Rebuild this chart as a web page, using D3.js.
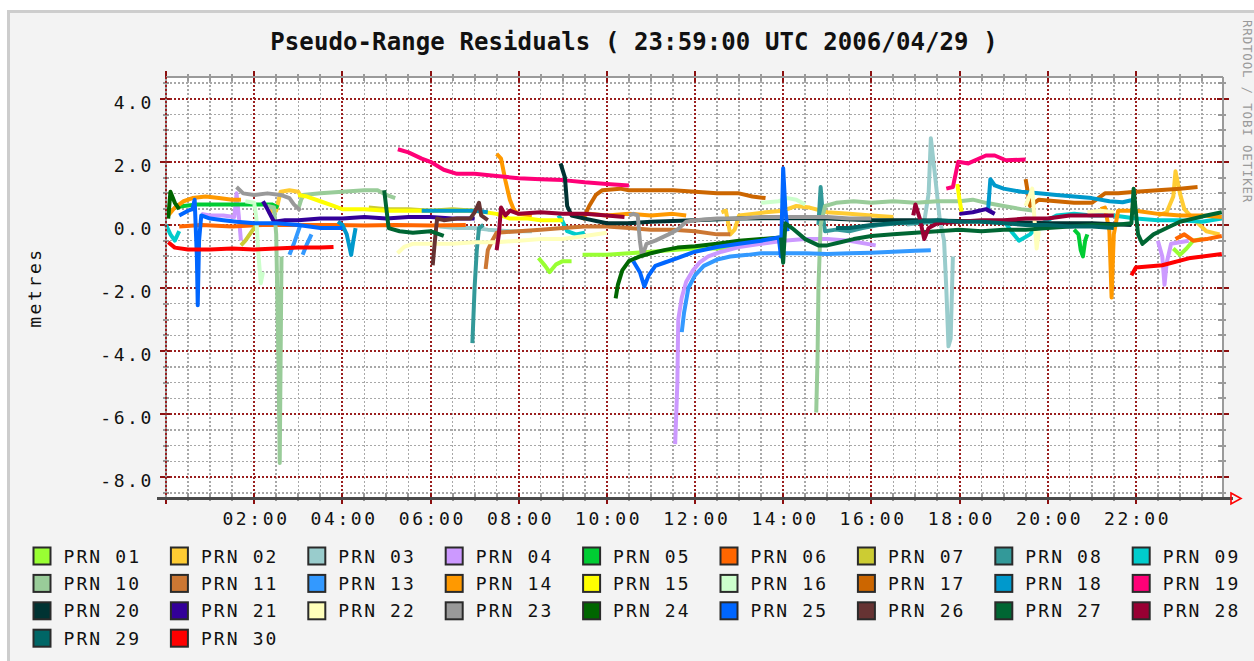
<!DOCTYPE html>
<html>
<head>
<meta charset="utf-8">
<script src="https://cdn.jsdelivr.net/npm/d3@7"></script>
<style>
  body { margin: 0; background: #fff; }
  text { font-family: "DejaVu Sans Mono", monospace; fill: #111; }
</style>
</head>
<body>
<svg id="chart"></svg>
<script>
// DATA: legend labels, then one array per satellite: [segments] of [hour UTC, residual m]
const prnNames = ["PRN 01","PRN 02","PRN 03","PRN 04","PRN 05","PRN 06","PRN 07","PRN 08","PRN 09",
  "PRN 10","PRN 11","PRN 13","PRN 14","PRN 15","PRN 16","PRN 17","PRN 18","PRN 19",
  "PRN 20","PRN 21","PRN 22","PRN 23","PRN 24","PRN 25","PRN 26","PRN 27","PRN 28","PRN 29","PRN 30"];

const prnColors = ["#99ff33","#ffcc33","#99cccc","#cc99ff","#00cc33","#ff6600","#cccc33","#339999","#00cccc",
  "#99cc99","#cc7733","#3399ff","#ff9900","#ffff00","#ccffcc","#cc6600","#0099cc","#ff0077",
  "#003333","#330099","#ffffbb","#999999","#006600","#0066ff","#663333","#006633","#990033","#006666","#ff0000"];

const yTickValues = [-8, -6, -4, -2, 0, 2, 4];

const prn01 = [
  [[8.45,-1.05],[8.6,-1.3],[8.7,-1.5],[8.85,-1.25],[9.0,-1.15],[9.2,-1.15]],
  [[9.45,-0.95],[10,-0.95],[10.5,-0.9],[11,-0.85],[11.5,-0.8],[12,-0.75],[12.5,-0.75],[13,-0.7]],
  [[22.85,-0.75],[23.0,-0.95],[23.15,-0.75],[23.3,-0.5],[23.5,-0.45]]
];
const prn02 = [
  [[2.3,0.4],[2.5,0.45],[2.6,1.05],[2.8,1.1],[3.0,1.05],[3.1,0.8]],
  [[12.6,0.4],[12.7,0.45],[12.8,-0.3],[12.9,-0.15],[13.0,0.3],[13.3,0.35],[13.6,0.4],[14.0,0.45],[14.3,0.6],[14.6,0.55],[15.0,0.4],[15.5,0.35],[16,0.3],[16.5,0.25]],
  [[22.5,0.3],[22.7,0.4],[22.85,0.9],[22.9,1.7],[23.0,1.0],[23.1,0.5],[23.3,0.2],[23.6,-0.2],[23.9,-0.3]]
];
const prn03 = [
  [[6.2,-0.05],[6.6,-0.1],[7.0,-0.1],[7.3,-0.15],[7.8,-0.2],[8.3,-0.2]],
  [[16.8,0.0],[17.0,0.05],[17.2,0.1],[17.3,1.0],[17.35,2.75],[17.45,1.5],[17.55,0.2],[17.65,-0.5],[17.7,-2.0],[17.75,-3.85],[17.8,-3.6],[17.85,-1.0]]
];
const prn04 = [
  [[0.8,0.35],[1.0,0.3],[1.3,0.3],[1.55,0.25],[1.6,1.0],[1.65,0.3],[1.7,-0.5]],
  [[11.55,-6.95],[11.6,-5.0],[11.62,-3.0],[11.7,-2.3],[11.8,-1.8],[11.95,-1.45],[12.1,-1.2],[12.3,-1.0],[12.6,-0.85],[13,-0.7],[13.5,-0.6],[14,-0.5],[14.5,-0.45],[15,-0.45],[15.5,-0.5],[16.1,-0.65]],
  [[22.5,-0.5],[22.6,-1.0],[22.65,-1.9],[22.7,-1.2],[22.8,-0.6],[23.0,-0.55],[23.2,-0.5]]
];
const prn05 = [
  [[0.2,0.55],[0.4,0.6],[0.7,0.65],[1.0,0.65],[1.5,0.65],[2.0,0.65],[2.4,0.65],[2.55,0.55]],
  [[20.6,-0.15],[20.7,-0.3],[20.75,-0.8],[20.8,-1.0],[20.85,-0.5],[20.9,-0.3]]
];
const prn06 = [
  [[0.3,-0.05],[0.8,0.0],[1.5,-0.05],[2.2,0.0],[3.0,0.0],[3.8,0.0],[4.5,-0.02],[5.2,0.0],[6.0,-0.02],[6.8,0.0]],
  [[22.9,-0.45],[23.1,-0.3],[23.3,-0.5],[23.6,-0.45],[23.95,-0.35]]
];
const prn07 = [
  [[1.7,-0.65],[1.8,-0.5],[1.95,-0.2],[2.05,0.0]],
  [[4.6,0.55],[5.0,0.5],[5.5,0.5],[6.0,0.45],[6.5,0.5],[7.0,0.45]]
];
const prn08 = [
  [[6.95,-3.75],[7.0,-2.0],[7.05,-0.8],[7.1,-0.1],[7.2,0.0]],
  [[14.8,0.0],[14.85,1.2],[14.9,0.3],[14.95,-0.2],[15.2,-0.15],[15.5,-0.2],[15.8,-0.1],[16.2,0.0],[16.6,0.05],[17,0.05],[17.5,0.1],[18,0.1]]
];
const prn09 = [
  [[0.0,0.0],[0.1,-0.3],[0.2,-0.5],[0.3,-0.2]],
  [[8.9,0.3],[9.0,0.1],[9.1,-0.2],[9.3,-0.3],[9.5,-0.25]],
  [[19.0,0.15],[19.2,-0.25],[19.35,-0.5],[19.6,-0.3],[19.8,0.0],[20.2,0.3],[20.6,0.35],[21,0.3],[21.5,0.3],[22,0.2],[22.5,0.15],[23,0.15],[23.5,0.1],[23.95,0.2]]
];
const prn10 = [
  [[2.3,0.6],[2.45,0.55],[2.5,-0.3],[2.55,-4.2],[2.58,-7.55],[2.6,-4.2],[2.62,-1.0]],
  [[3.0,0.5],[3.1,0.95],[3.5,1.0],[4.0,1.05],[4.5,1.1],[4.8,1.1],[5.0,0.95],[5.2,0.85]],
  [[14.75,-5.95],[14.78,-4.2],[14.8,-2.0],[14.85,0.0],[14.95,0.6],[15.2,0.7],[15.6,0.75],[16,0.7],[16.5,0.75],[17,0.7],[17.5,0.75],[18,0.75],[18.3,0.8],[18.6,0.7],[19.0,0.6],[19.4,0.5],[19.7,0.45]]
];
const prn11 = [
  [[7.25,-1.4],[7.3,-0.8],[7.4,-0.5],[7.5,-0.25],[8,-0.2],[8.5,-0.15],[9.0,-0.1],[9.5,-0.05],[10,-0.05],[10.5,-0.1],[11,-0.15],[11.5,-0.15],[12,-0.2],[12.5,-0.3],[12.8,-0.3]]
];
const prn13 = [
  [[2.8,-0.95],[2.9,-0.6],[3.0,-0.2],[3.05,0.0]],
  [[3.1,-0.95],[3.2,-0.6],[3.3,-0.3]],
  [[11.7,-3.4],[11.75,-2.8],[11.85,-2.0],[12.0,-1.6],[12.2,-1.3],[12.5,-1.1],[12.8,-1.0],[13.2,-0.95],[13.5,-0.9],[14,-0.9],[14.5,-0.9],[15,-0.92],[15.5,-0.9],[16,-0.88],[16.5,-0.85],[17,-0.82],[17.35,-0.8]]
];
const prn14 = [
  [[0.05,0.3],[0.2,0.55],[0.4,0.75],[0.6,0.85],[0.9,0.9],[1.2,0.85],[1.5,0.8],[1.7,0.8]],
  [[7.5,2.25],[7.6,2.1],[7.7,1.4],[7.8,0.8],[7.9,0.45],[8.0,0.35],[8.3,0.3]],
  [[9.4,0.3],[9.6,0.35],[10,0.3],[10.5,0.35],[11,0.3],[11.5,0.35],[11.8,0.3]],
  [[21.2,0.5],[21.3,0.55],[21.4,-0.2],[21.45,-2.3],[21.5,-0.3],[21.6,0.45],[22,0.45],[22.5,0.35],[23,0.3],[23.5,0.3],[23.95,0.25]]
];
const prn15 = [
  [[3.0,0.95],[3.2,0.9],[3.5,0.75],[3.8,0.6],[4.0,0.5],[4.5,0.5],[5.0,0.45],[5.5,0.45],[6.0,0.45],[6.5,0.45],[7.0,0.45],[7.5,0.35],[7.8,0.2],[8.2,0.2],[8.5,0.15],[9.0,0.15]],
  [[17.95,1.3],[18.0,0.8],[18.05,0.4]]
];
const prn16 = [
  [[1.8,0.75],[2.0,0.7],[2.05,0.2],[2.1,-1.0],[2.15,-1.85],[2.2,-1.5]],
  [[13.5,0.7],[13.9,0.75],[14.1,0.85],[14.3,0.8],[14.5,0.65]]
];
const prn17 = [
  [[9.45,0.15],[9.6,0.6],[9.75,0.95],[9.9,1.1],[10.3,1.15],[10.5,1.1],[11,1.1],[11.5,1.1],[12,1.05],[12.5,1.0],[13,1.0],[13.3,0.9],[13.6,0.85]],
  [[19.5,1.45],[19.6,0.6],[19.8,0.8],[20.2,0.75],[20.6,0.7],[21.0,0.7],[21.3,1.0],[21.6,1.0],[22,1.05],[22.5,1.1],[23,1.15],[23.4,1.2]]
];
const prn18 = [
  [[3.9,0.1],[4.0,0.0],[4.1,-0.3],[4.2,-0.95],[4.25,-0.5],[4.3,-0.1]],
  [[5.8,0.45],[6.2,0.45],[6.6,0.45],[7.0,0.45],[7.3,0.4]],
  [[18.65,0.5],[18.7,1.45],[18.8,1.25],[19.0,1.15],[19.4,1.05],[19.8,1.0],[20.2,0.95],[20.6,0.9],[21.0,0.85],[21.4,0.75],[21.7,0.72],[21.9,0.78]]
];
const prn19 = [
  [[5.26,2.4],[5.5,2.3],[5.8,2.1],[6.0,2.0],[6.3,1.75],[6.6,1.62],[7.0,1.62],[7.5,1.55],[8.0,1.48],[8.5,1.45],[9.0,1.42],[9.5,1.35],[10.0,1.3],[10.5,1.25]],
  [[17.7,1.15],[17.85,1.2],[17.97,2.0],[18.2,1.95],[18.6,2.2],[18.8,2.2],[19.05,2.05],[19.5,2.07]]
];
const prn20 = [
  [[8.95,1.95],[9.05,1.5],[9.1,0.6],[9.2,0.3],[9.5,0.2],[10,0.05],[10.5,0.05],[11,0.1],[11.5,0.12],[12,0.15],[13,0.2],[14,0.22],[15,0.2],[16,0.15],[17,0.15],[18,0.12],[19,0.1],[20,0.05],[21,0.05],[21.9,0.0]]
];
const prn21 = [
  [[2.2,0.75],[2.3,0.5],[2.45,0.1],[2.7,0.15],[3.0,0.15],[3.5,0.2],[4.0,0.2],[4.5,0.25],[5.0,0.2],[5.5,0.25],[6.0,0.25],[6.5,0.2],[7.0,0.2]],
  [[18.0,0.35],[18.3,0.4],[18.6,0.5],[18.8,0.35]]
];
const prn22 = [
  [[5.25,-0.9],[5.4,-0.7],[5.6,-0.6],[6.0,-0.6],[6.5,-0.6],[7.0,-0.55],[7.5,-0.55],[8.0,-0.5],[8.5,-0.45],[9.0,-0.45],[9.5,-0.35],[10.0,-0.25]],
  [[19.5,0.6],[19.65,1.15],[19.7,0.2],[19.75,-0.75],[19.8,-0.2]],
  [[20.9,0.4],[21.2,0.45],[21.5,0.4]]
];
const prn23 = [
  [[1.6,1.2],[1.75,1.0],[2.0,0.95],[2.3,1.0],[2.6,0.95],[2.8,0.85],[2.9,0.65],[3.05,0.45]],
  [[10.5,0.3],[10.6,0.35],[10.7,0.3],[10.75,-0.5],[10.8,-1.0],[10.9,-0.6],[11.1,-0.5],[11.4,-0.3],[11.6,-0.15],[11.8,0.1],[12.0,0.15],[12.5,0.2],[13,0.2],[13.5,0.25],[14,0.25],[14.5,0.25],[15,0.25],[15.5,0.2],[16,0.2]]
];
const prn24 = [
  [[0.05,0.2],[0.1,1.05],[0.2,0.7],[0.3,0.5]],
  [[10.2,-2.33],[10.25,-1.9],[10.35,-1.44],[10.5,-1.15],[10.75,-1.0],[11,-0.9],[11.3,-0.8],[11.6,-0.72],[12,-0.68],[12.5,-0.6],[13,-0.5],[13.5,-0.45],[13.95,-0.4]]
];
const prn25 = [
  [[0.3,0.3],[0.5,0.45],[0.6,0.5],[0.65,0.8],[0.7,-1.0],[0.72,-2.55],[0.75,-0.5],[0.8,0.3],[1.0,0.2],[1.3,0.15],[1.6,0.1],[2.0,0.05],[2.5,0.05],[3.0,0.0],[3.5,-0.1],[4.0,-0.1]],
  [[10.6,-1.15],[10.75,-1.5],[10.85,-1.95],[10.95,-1.6],[11.1,-1.3],[11.3,-1.2],[11.6,-1.05],[12,-0.85],[12.5,-0.7],[13,-0.6],[13.5,-0.5],[13.9,-0.4],[13.95,-1.0],[14.0,1.8],[14.05,0.5],[14.1,-0.2]]
];
const prn26 = [
  [[6.05,-1.28],[6.1,-0.5],[6.15,0.2],[6.3,0.15],[6.6,0.2],[6.9,0.2],[7.0,0.4],[7.1,0.7],[7.15,0.3],[7.3,0.15]]
];
const prn27 = [
  [[4.95,1.1],[5.0,0.5],[5.05,-0.1],[5.3,-0.2],[5.6,-0.25],[6.0,-0.2],[6.3,-0.35]],
  [[13.95,-0.4],[14.0,-1.2],[14.05,0.05],[14.2,-0.1],[14.5,-0.45],[14.8,-0.65],[15.0,-0.65],[15.3,-0.55],[15.6,-0.45],[16,-0.35],[16.5,-0.3],[17,-0.25],[17.5,-0.2],[18,-0.15],[18.5,-0.2],[19,-0.15],[19.5,-0.15],[20,-0.1],[20.5,-0.05],[21,0.0],[21.5,0.0],[21.9,0.05],[21.95,1.15],[22.05,-0.3],[22.15,-0.6],[22.4,-0.3],[22.7,-0.1],[23,0.1],[23.3,0.2],[23.6,0.3],[23.95,0.4]]
];
const prn28 = [
  [[7.5,-0.8],[7.55,-0.3],[7.6,0.55],[7.7,0.3],[7.8,0.45],[8,0.35],[8.5,0.4],[9,0.35],[9.5,0.35],[10,0.3],[10.4,0.25]],
  [[16.95,0.3],[17.0,0.65],[17.1,0.2],[17.2,-0.45],[17.3,-0.1],[17.5,0.05],[18,0.1],[18.5,0.15],[19,0.15],[19.5,0.2],[20,0.2],[20.5,0.3],[21,0.3],[21.5,0.3]]
];
const prn29 = [
  [[15.2,-0.1],[15.5,-0.1],[16,0.0],[16.5,0.05],[17,0.1],[17.5,0.15],[18,0.1],[18.5,0.1],[19,0.05],[19.5,0.0],[20,0.0],[20.5,-0.05],[21,-0.05],[21.5,-0.1]]
];
const prn30 = [
  [[0.05,-0.55],[0.2,-0.72],[0.5,-0.78],[1,-0.78],[1.5,-0.75],[2,-0.78],[2.5,-0.75],[3,-0.72],[3.5,-0.72],[3.8,-0.7]],
  [[21.9,-1.6],[22.0,-1.35],[22.6,-1.28],[23.2,-1.06],[23.95,-0.92]]
];

const prnData = [prn01,prn02,prn03,prn04,prn05,prn06,prn07,prn08,prn09,prn10,prn11,prn13,prn14,prn15,
  prn16,prn17,prn18,prn19,prn20,prn21,prn22,prn23,prn24,prn25,prn26,prn27,prn28,prn29,prn30];

// DIMENSIONS
const W = 1254, H = 661;
const plot = { left: 166, right: 1224, top: 77, bottom: 498 };
const day0 = new Date(Date.UTC(2006, 3, 29, 0, 0));
const day1 = new Date(Date.UTC(2006, 3, 30, 0, 0));
const at = (h) => new Date(day0.getTime() + h * 3600e3);

const svg = d3.select("#chart").attr("width", W).attr("height", H);

// FRAME
svg.append("rect").attr("width", W).attr("height", H).attr("fill", "#fff");
svg.append("rect").attr("x", 7).attr("y", 10).attr("width", W).attr("height", H).attr("fill", "#cdcdcd");
svg.append("rect").attr("x", 10).attr("y", 13).attr("width", W).attr("height", H).attr("fill", "#f3f3f3");

// SCALES
const x = d3.scaleUtc().domain([day0, day1]).range([plot.left, plot.right]);
const y = d3.scaleLinear().domain([-8.66, 4.69]).range([plot.bottom, plot.top]);

svg.append("rect")
  .attr("x", plot.left).attr("y", plot.top)
  .attr("width", plot.right - plot.left).attr("height", plot.bottom - plot.top)
  .attr("fill", "#fff");

// GRID
const xAll = d3.utcMinute.every(30).range(day0, day1);
const xMajor = xAll.filter((d) => d.getUTCMinutes() === 0 && d.getUTCHours() % 2 === 0);
const xMinor = xAll.filter((d) => !(d.getUTCMinutes() === 0 && d.getUTCHours() % 2 === 0));
const yAll = d3.range(-17, 10).map((k) => k / 2);
const yMajor = yAll.filter((v) => v % 2 === 0);
const yMinor = yAll.filter((v) => v % 2 !== 0);

const grid = svg.append("g").attr("shape-rendering", "crispEdges");
function gridLines(vals, vertical, color, width) {
  grid.append("g").selectAll("line").data(vals).join("line")
    .attr("x1", (d) => vertical ? x(d) : plot.left)
    .attr("x2", (d) => vertical ? x(d) : plot.right)
    .attr("y1", (d) => vertical ? plot.top : y(d))
    .attr("y2", (d) => vertical ? plot.bottom : y(d))
    .attr("stroke", color).attr("stroke-width", width)
    .attr("stroke-dasharray", "2,2");
}
gridLines(xMinor, true, "#a8a8a8", 1.5);
gridLines(yMinor, false, "#a8a8a8", 1.5);
gridLines(xMajor, true, "#9a1f1f", 2);
gridLines(yMajor, false, "#9a1f1f", 2);

// TICK MARKS on all four sides
const ticks = svg.append("g").attr("shape-rendering", "crispEdges");
function tickMarks(vals, vertical, color, a, b, width) {
  ticks.append("g").selectAll("line").data(vals).join("line")
    .attr("x1", (d) => vertical ? x(d) : a)
    .attr("x2", (d) => vertical ? x(d) : b)
    .attr("y1", (d) => vertical ? a : y(d))
    .attr("y2", (d) => vertical ? b : y(d))
    .attr("stroke", color).attr("stroke-width", width);
}
tickMarks(xMinor, true, "#999", 74, 81, 2);
tickMarks(xMinor, true, "#999", 493, 501, 2);
tickMarks(yMinor, false, "#999", 163, 169, 2);
tickMarks(yMinor, false, "#999", 1218, 1226, 2);
tickMarks(xMajor, true, "#8b1010", 71, 82, 2);
tickMarks(xMajor, true, "#8b1010", 493, 504, 2);
tickMarks(yMajor, false, "#8b1010", 160, 170, 2);
tickMarks(yMajor, false, "#8b1010", 1217, 1229, 2);

// SERIES
const line = d3.line().x((d) => x(at(d[0]))).y((d) => y(d[1]));
const series = prnNames.map((name, i) => ({ name, color: prnColors[i], segments: prnData[i] }));

svg.append("g").attr("id", "series")
  .selectAll("g.prn").data(series).join("g").attr("class", "prn")
  .selectAll("path").data((d) => d.segments.map((s) => ({ s, color: d.color })))
  .join("path")
  .attr("d", (d) => line(d.s))
  .attr("fill", "none")
  .attr("stroke", (d) => d.color)
  .attr("stroke-width", 4)
  .attr("stroke-linejoin", "round");

// BORDERS + AXIS
const border = svg.append("g").attr("shape-rendering", "crispEdges");
border.append("line").attr("x1", plot.left).attr("x2", plot.right - 1).attr("y1", plot.top).attr("y2", plot.top)
  .attr("stroke", "#9a9a9a").attr("stroke-width", 2);
border.append("line").attr("x1", plot.right - 1).attr("x2", plot.right - 1).attr("y1", plot.top).attr("y2", plot.bottom)
  .attr("stroke", "#9a9a9a").attr("stroke-width", 2);
border.append("line").attr("x1", plot.left).attr("x2", plot.left).attr("y1", plot.top).attr("y2", plot.bottom)
  .attr("stroke", "#9a9a9a").attr("stroke-width", 2);
border.append("line").attr("x1", plot.left).attr("x2", plot.left).attr("y1", plot.top).attr("y2", plot.bottom)
  .attr("stroke", "#9a1f1f").attr("stroke-width", 2).attr("stroke-dasharray", "2,2");
border.append("line").attr("x1", 157).attr("x2", 1233).attr("y1", plot.bottom).attr("y2", plot.bottom)
  .attr("stroke", "#4a4a4a").attr("stroke-width", 3);
svg.append("path").attr("d", "M1231,493 L1241,498.5 L1231,504 Z")
  .attr("fill", "none").attr("stroke", "#ff0000").attr("stroke-width", 1.6);

// AXIS LABELS
const fmt = d3.formatLocale({ decimal: ".", thousands: ",", grouping: [3], currency: ["", ""], minus: "-" }).format(".1f");
const labelFont = (sel) => sel.attr("font-size", 18).attr("letter-spacing", 2.6).attr("fill", "#111");

const xLabelTicks = xMajor.filter((d) => d > day0);
const xAxis = svg.append("g").attr("transform", `translate(0,${plot.bottom})`)
  .call(d3.axisBottom(x).tickValues(xLabelTicks).tickFormat(d3.utcFormat("%H:%M")).tickSize(0).tickPadding(14));
xAxis.select(".domain").remove();
xAxis.selectAll("text").call(labelFont).attr("font-family", "DejaVu Sans Mono").attr("dx", 1.3);

const yAxis = svg.append("g").attr("transform", `translate(${plot.left},0)`)
  .call(d3.axisLeft(y).tickValues(yTickValues).tickFormat(fmt).tickSize(0).tickPadding(12));
yAxis.select(".domain").remove();
yAxis.selectAll("text").call(labelFont).attr("font-family", "DejaVu Sans Mono").attr("dy", "0.52em");

// TITLE
svg.append("text")
  .attr("x", 634).attr("y", 50)
  .attr("text-anchor", "middle")
  .attr("font-size", 24).attr("font-weight", "bold").attr("letter-spacing", 0.1)
  .text("Pseudo-Range Residuals ( 23:59:00 UTC 2006/04/29 )");

svg.append("text")
  .attr("transform", `translate(41,${(plot.top + plot.bottom) / 2}) rotate(-90)`)
  .attr("text-anchor", "middle")
  .call(labelFont)
  .text("metres");

svg.append("text")
  .attr("transform", "translate(1243,20) rotate(90)")
  .attr("font-size", 12.5).attr("letter-spacing", 0.8)
  .style("fill", "#9a9a9a")
  .text("RRDTOOL / TOBI OETIKER");

// LEGEND
const legend = svg.append("g").selectAll("g").data(series).join("g")
  .attr("transform", (d, i) => `translate(${33 + 137.4 * (i % 9)},${556 + 27.4 * Math.floor(i / 9)})`);
legend.append("rect")
  .attr("x", 0.5).attr("y", -8.5).attr("width", 17).attr("height", 17)
  .attr("fill", (d) => d.color).attr("stroke", "#2a2a2a").attr("stroke-width", 2);
legend.append("text")
  .attr("x", 30.5).attr("y", 6.5)
  .attr("font-size", 18).attr("letter-spacing", 2.1)
  .text((d) => d.name);
</script>
</body>
</html>
